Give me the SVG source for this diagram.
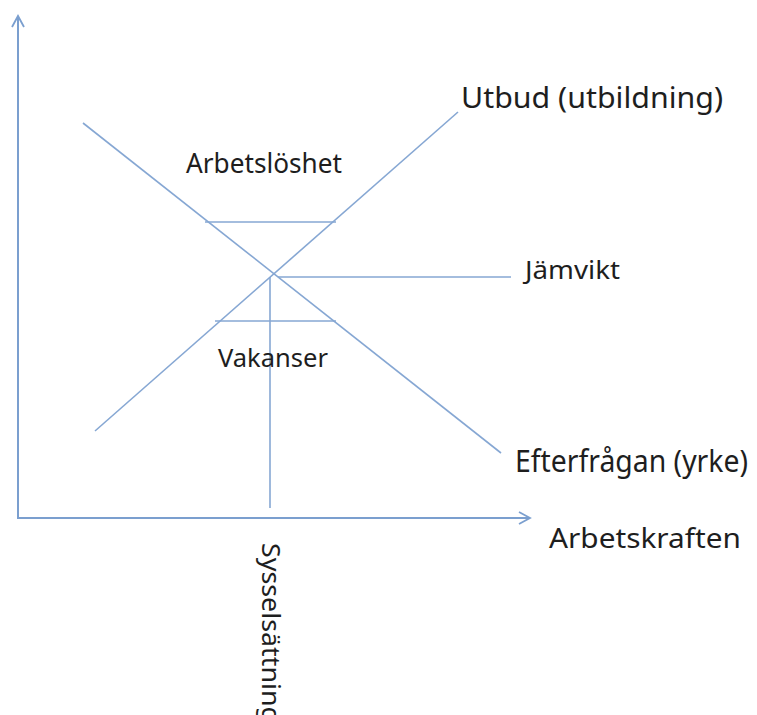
<svg xmlns="http://www.w3.org/2000/svg" width="757" height="715" viewBox="0 0 757 715">
<defs>
<marker id="arr" viewBox="0 0 14 14" refX="12" refY="7" markerWidth="14" markerHeight="14" markerUnits="userSpaceOnUse" orient="auto">
<path d="M1,1 L12,7 L1,13" fill="none" stroke="#7B9FCF" stroke-width="1.8"/>
</marker>
<style>
.ax{stroke:#7B9FCF;stroke-width:2;fill:none}
.ln{stroke:#86A7D3;stroke-width:1.6;fill:none}
.lb{font-family:"Noto Sans","Open Sans","Liberation Sans",sans-serif;fill:#1e1e1e}
</style>
</defs>
<rect width="757" height="715" fill="#ffffff"/>
<g id="connectors">
<line class="ax" x1="18" y1="518" x2="18" y2="16" marker-end="url(#arr)"/>
<line class="ax" x1="17" y1="518" x2="530" y2="518" marker-end="url(#arr)"/>
<line class="ln" x1="95" y1="431" x2="458" y2="112"/>
<line class="ln" x1="83" y1="123" x2="501" y2="453"/>
<line class="ln" x1="278" y1="277" x2="511" y2="277"/>
<line class="ln" x1="270" y1="277" x2="270" y2="508"/>
<line class="ln" x1="205" y1="222" x2="336" y2="222"/>
<line class="ln" x1="215" y1="321" x2="336" y2="321"/>
</g>
<g id="utbud"><text class="lb" x="461" y="108" font-size="29" textLength="262" lengthAdjust="spacingAndGlyphs">Utbud (utbildning)</text></g>
<g id="arbetsloshet"><text class="lb" x="186" y="173" font-size="27" textLength="156" lengthAdjust="spacingAndGlyphs">Arbetslöshet</text></g>
<g id="jamvikt"><text class="lb" x="525" y="279" font-size="26" textLength="95" lengthAdjust="spacingAndGlyphs">Jämvikt</text></g>
<g id="vakanser"><text class="lb" x="218" y="367" font-size="26" textLength="110" lengthAdjust="spacingAndGlyphs">Vakanser</text></g>
<g id="efterfragan"><text class="lb" x="515" y="472" font-size="30" textLength="233" lengthAdjust="spacingAndGlyphs">Efterfrågan (yrke)</text></g>
<g id="arbetskraften"><text class="lb" x="549" y="548" font-size="28" textLength="192" lengthAdjust="spacingAndGlyphs">Arbetskraften</text></g>
<g id="sysselsattning"><text class="lb" transform="translate(262,543) rotate(90)" x="0" y="0" font-size="26" textLength="180" lengthAdjust="spacingAndGlyphs">Sysselsättning</text></g>
</svg>
